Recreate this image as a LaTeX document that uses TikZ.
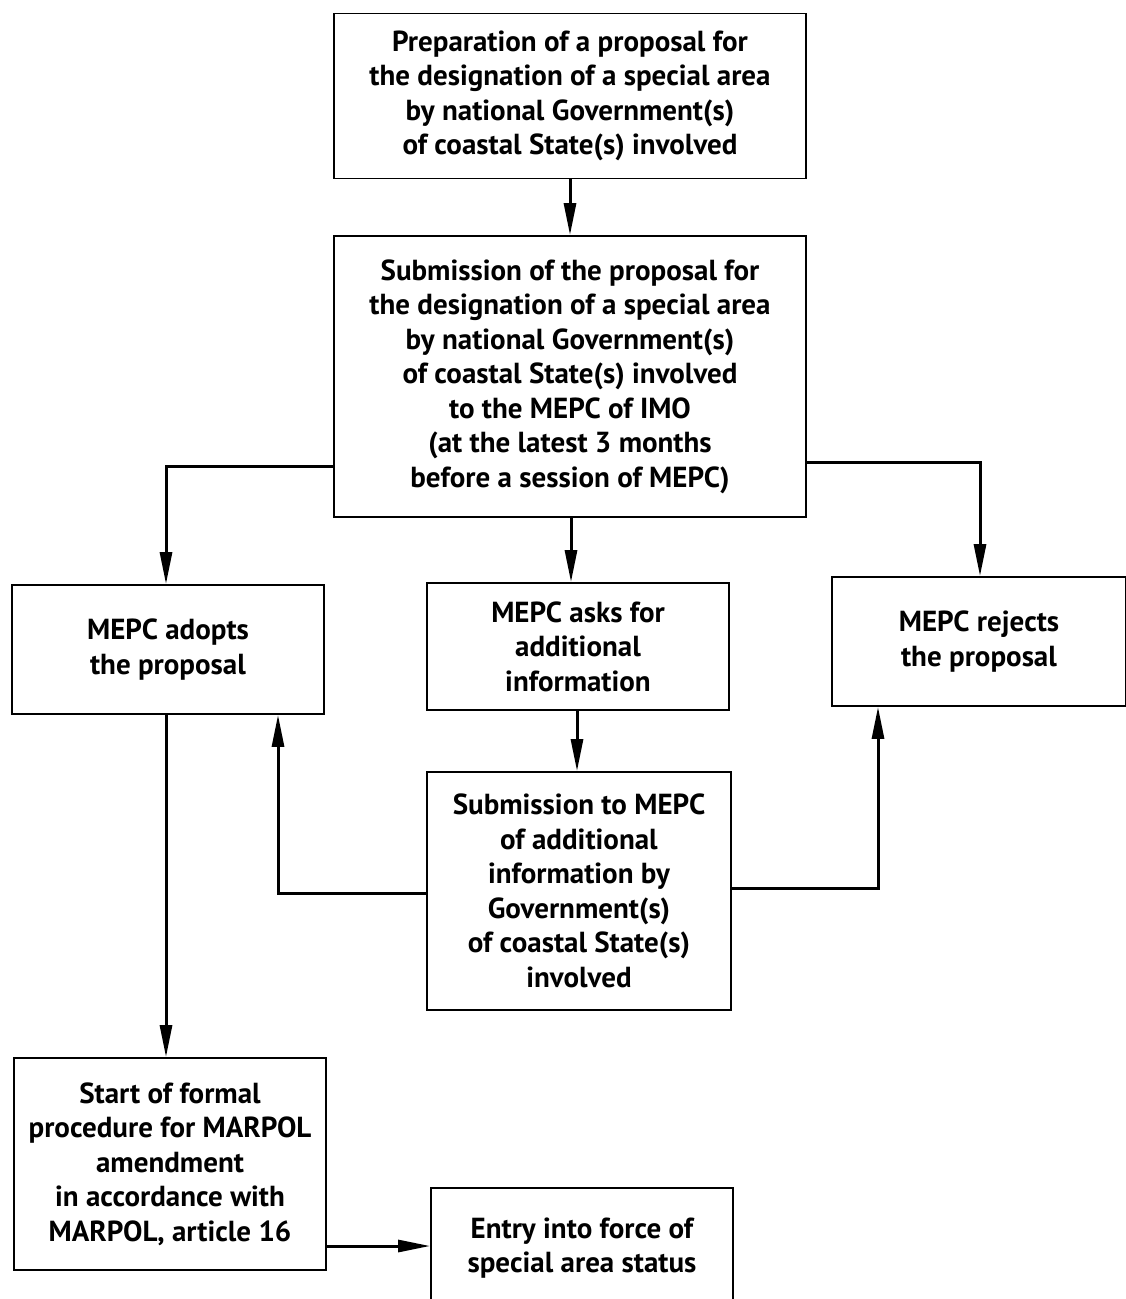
\documentclass[tikz,border=0pt]{standalone}
\usepackage{fontspec}
\setmainfont{PT Sans}
\usetikzlibrary{arrows.meta}
\begin{document}
\begin{tikzpicture}[x=1pt,y=-1pt,
  box/.style={draw,line width=1.8pt,rectangle,align=center,inner sep=0pt,
    font=\fontsize{29}{34.5}\selectfont\bfseries},
  arr/.style={line width=3pt,-{Stealth[length=32pt,width=12pt,inset=0pt]}},
  ln/.style={line width=3pt}]
\useasboundingbox (0,0) rectangle (1126,1299);
\node[box,minimum width=472pt,minimum height=165pt] (b1) at (570,96)
  {Preparation of a proposal for\\the designation of a special area\\by national Government(s)\\of coastal State(s) involved};
\node[box,minimum width=472pt,minimum height=281pt] (b2) at (570,376.5)
  {Submission of the proposal for\\the designation of a special area\\by national Government(s)\\of coastal State(s) involved\\to the MEPC of IMO\\(at the latest 3 months\\before a session of MEPC)};
\node[box,minimum width=312pt,minimum height=129pt] (b3) at (168,649.5)
  {MEPC adopts\\the proposal};
\node[box,minimum width=302pt,minimum height=127pt] (b4) at (578,646.5)
  {MEPC asks for\\additional\\information};
\node[box,minimum width=294pt,minimum height=129pt] (b5) at (979,641.5)
  {MEPC rejects\\the proposal};
\node[box,minimum width=304pt,minimum height=238pt] (b6) at (579,891)
  {Submission to MEPC\\of additional\\information by\\Government(s)\\of coastal State(s)\\involved};
\node[box,minimum width=312pt,minimum height=212pt] (b7) at (170,1164)
  {Start of formal\\procedure for MARPOL\\amendment\\in accordance with\\MARPOL, article 16};
\node[box,minimum width=302pt,minimum height=120pt] (b8) at (582,1248)
  {Entry into force of\\special area status};
\coordinate (c0) at (570,0);
\coordinate (c1) at (166,466);
\coordinate (c2) at (980,462);
\coordinate (c3) at (571,0);
\coordinate (c4) at (577,0);
\coordinate (c5) at (278,893);
\coordinate (c6) at (878,888);
\coordinate (c7) at (166,0);
\coordinate (c8) at (0,1246);
\draw[arr] (c0 |- b1.south) -- (c0 |- b2.north);
\draw[arr] (c1 -| b2.west) -- (c1) -- (c1 |- b3.north);
\draw[arr] (c2 -| b2.east) -- (c2) -- (c2 |- b5.north);
\draw[arr] (c3 |- b2.south) -- (c3 |- b4.north);
\draw[arr] (c4 |- b4.south) -- (c4 |- b6.north);
\draw[arr] (c5 -| b6.west) -- (c5) -- (c5 |- b3.south);
\draw[arr] (c6 -| b6.east) -- (c6) -- (c6 |- b5.south);
\draw[arr] (c7 |- b3.south) -- (c7 |- b7.north);
\draw[arr] (c8 -| b7.east) -- (c8 -| b8.west);
\end{tikzpicture}
\end{document}
